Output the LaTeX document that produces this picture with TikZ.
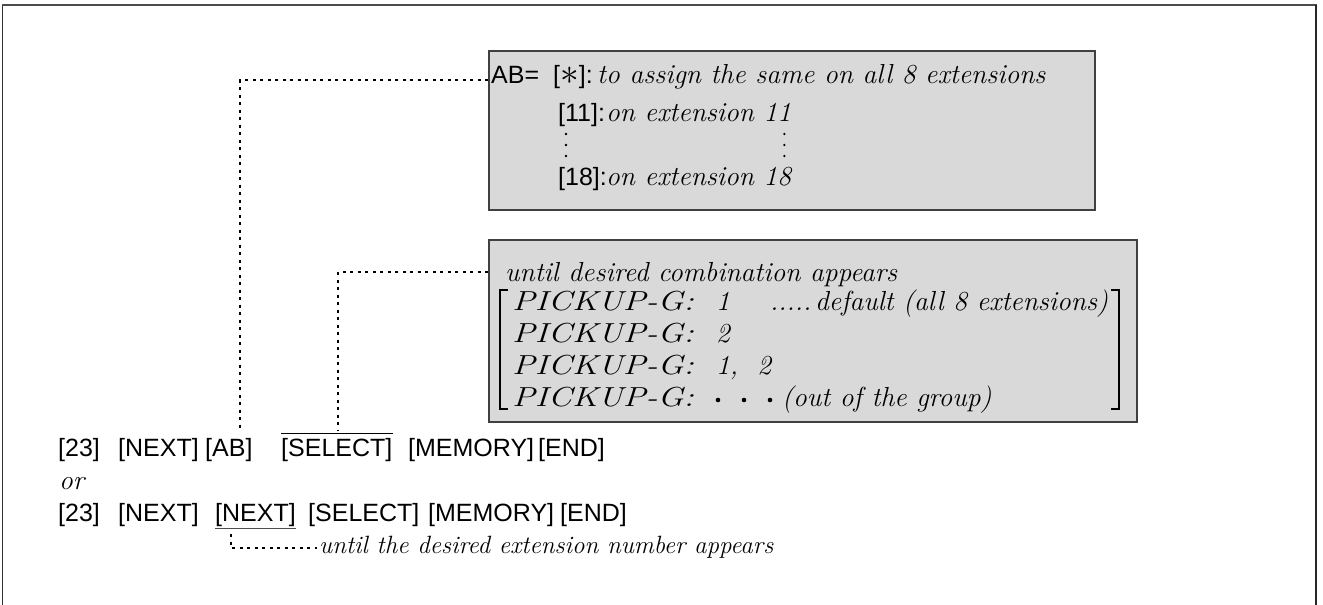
\documentclass[tikz,border=0pt]{standalone}
\usepackage{fontspec}
\newfontfamily\hel{Liberation Sans}
\usetikzlibrary{calc}
\begin{document}
\begin{tikzpicture}[x=1pt,y=-1pt,
  sans/.style={font=\hel\fontsize{25}{28}\selectfont, inner sep=0pt, anchor=base west},
  ital/.style={font=\fontsize{27.5}{30}\selectfont\itshape, inner sep=0pt, anchor=base west},
  shbox/.style={draw=black!75, line width=1.6pt, fill=black!15, inner sep=0pt, anchor=north west},
  conn/.style={line width=1.1pt, dash pattern=on 3pt off 4.5pt},
  brk/.style={line width=1.2pt}]
\useasboundingbox (0,0) rectangle (1323,605);
% outer frame
\draw[line width=0.8pt, black!80] (2,605) -- (2,5);
\draw[line width=1.6pt, black!70] (2,5) -- (1317,5);
\draw[line width=2.2pt, black!85] (1316,5) -- (1316,605);
% boxes
\node[shbox, minimum width=606pt, minimum height=159pt] (boxA) at (488,50) {};
\node[shbox, minimum width=648pt, minimum height=182pt] (boxB) at (488,239) {};
% box A text
\node[sans] (abeq) at (491,83) {AB=};
\node[sans] (abstar) at (553,83) {[\raisebox{-1pt}{\scalebox{1.5}{$\ast$}}]:};
\node[ital] (abtxt) at (597,83) {to assign the same on all 8 extensions};
\node[sans] (e11) at (558,121) {[11]:};
\node[ital] (e11t) at (606,121) {on extension 11};
\node[sans] (e18) at (558,185) {[18]:};
\node[ital] (e18t) at (606,185) {on extension 18};
\foreach \yy in {134,145,156} {
  \fill ($(e11.base west)+(8,\yy-121)$) circle (1.3pt);
  \fill ($(e11t.base east)+(-7,\yy-121)$) circle (1.3pt);
}
% box B text
\node[ital] (until) at (505,281) {until desired combination appears};
\node[ital] (p1) at (512,310) {\scalebox{1.25}[1]{PICKUP-G:}};
\node[ital] (p1n) at (716,310) {1};
\node[ital] (p1d) at (770,310) {.....};
\node[ital] (p1b) at (815,310) {default (all 8 extensions)};
\node[ital] (p2) at (512,342) {\scalebox{1.25}[1]{PICKUP-G:}};
\node[ital] (p2n) at (716,342) {2};
\node[ital] (p3) at (512,374) {\scalebox{1.25}[1]{PICKUP-G:}};
\node[ital] (p3n) at (716,374) {1,\ \ 2};
\node[ital] (p4) at (512,406) {\scalebox{1.25}[1]{PICKUP-G:}};
\node[ital] (p4t) at (782,406) {(out of the group)};
\foreach \xx in {718,744,770} \fill (\xx,400) circle (2.3pt);
\draw[brk] (508,290) -- (500,290) -- (500,409) -- (508,409);
\draw[brk] (1111,290) -- (1119,290) -- (1119,409) -- (1111,409);
% bottom row 1
\node[sans] (a23) at (58,456) {[23]};
\node[sans] (anext) at (118,456) {[NEXT]};
\node[sans] (aab) at (205,456) {[AB]};
\node[sans] (asel) at (281,456) {[SELECT]};
\node[sans] (amem) at (408,456) {[MEMORY]};
\node[sans] (aend) at (538,456) {[END]};
\draw[line width=1pt] ($(asel.north west)+(0,-4)$) -- ($(asel.north east)+(0,-4)$);
% or
\node[ital] (orw) at (59,489) {or};
% bottom row 2
\node[sans] (b23) at (58,521) {[23]};
\node[sans] (bnext) at (118,521) {[NEXT]};
\node[sans] (bnext2) at (215,521) {[NEXT]};
\node[sans] (bsel) at (308,521) {[SELECT]};
\node[sans] (bmem) at (428,521) {[MEMORY]};
\node[sans] (bend) at (560,521) {[END]};
\draw[line width=1pt, black!70] ($(bnext2.south west)+(0,2)$) -- ($(bnext2.south east)+(0,2)$);
% note
\node[ital, font=\fontsize{25}{30}\selectfont\itshape] (note) at (319,553) {until the desired extension number appears};
% connectors
\coordinate (c1) at (240,430);
\coordinate (c2) at (338,430);
\coordinate (c3) at (231,534);
\draw[conn] (boxA.west |- 0,80) -| (c1);
\draw[conn] (boxB.west |- 0,272) -| (c2);
\draw[conn] (c3) |- ($(note.base west)+(-2,-5)$);
\end{tikzpicture}
\end{document}
